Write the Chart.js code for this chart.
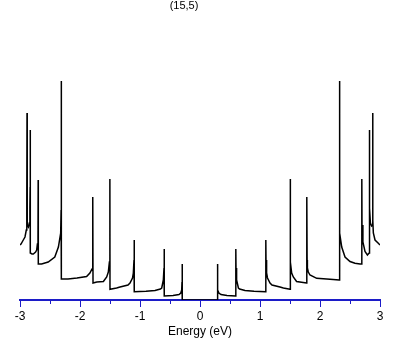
<!DOCTYPE html>
<html>
<head>
    <script src="https://cdn.jsdelivr.net/npm/chart.js"></script>
    <style>
        body { margin: 0; background: #fff; }
        #wrap { width: 409px; height: 345px; }
    </style>
</head>
<body>
    <div id="wrap"><canvas id="chart"></canvas></div>
    <script>
        // energy (eV) and density of states
        const energy = [
            -3.0, -2.983, -2.945, -2.917, -2.895, -2.888, -2.885, -2.883, -2.881, -2.878,
            -2.86, -2.845, -2.835, -2.831, -2.829, -2.828, -2.80, -2.778, -2.74, -2.722,
            -2.71, -2.70, -2.697, -2.695, -2.64, -2.53, -2.42, -2.36, -2.322, -2.315,
            -2.312, -2.310, -2.2, -2.05, -1.89, -1.835, -1.80, -1.79, -1.785, -1.783,
            -1.72, -1.61, -1.555, -1.528, -1.51, -1.502, -1.500, -1.39, -1.333, -1.2,
            -1.167, -1.125, -1.111, -1.10, -1.097, -1.095, -0.9, -0.75, -0.66, -0.638,
            -0.611, -0.60, -0.597, -0.595, -0.45, -0.35, -0.32, -0.305, -0.30, -0.297,
            -0.295,
            0.288, 0.290, 0.293, 0.298, 0.315, 0.35, 0.45, 0.595, 0.597, 0.60,
            0.61, 0.64, 0.66, 0.75, 0.9, 1.095, 1.097, 1.10, 1.11, 1.125,
            1.167, 1.2, 1.333, 1.39, 1.5, 1.502, 1.51, 1.528, 1.555, 1.61,
            1.72, 1.778, 1.780, 1.785, 1.79, 1.805, 1.833, 1.945, 2.167, 2.32,
            2.322, 2.327, 2.333, 2.362, 2.417, 2.5, 2.583, 2.667, 2.695, 2.697,
            2.70, 2.715, 2.75, 2.79, 2.820, 2.822, 2.824, 2.83, 2.84, 2.86,
            2.876, 2.877, 2.879, 2.883, 2.889, 2.917, 2.972, 3.0
        ];
        const dos = [
            55, 56, 60, 63, 70, 78, 100, 187, 95, 75,
            73, 77, 92, 113, 170, 47, 46, 46, 48, 50,
            56, 62, 120, 36, 36, 38, 43, 53, 67, 90,
            219, 21, 21, 22, 23.5, 27, 31, 40, 103, 17,
            18, 18.5, 23, 28, 38, 121, 10.7, 12, 13, 15,
            17, 22, 27, 40, 60, 8.3, 8.7, 9.5, 11, 12,
            20, 32, 51, 4, 4.5, 5.5, 7, 10, 18, 36,
            0,
            0, 36, 18, 10, 7, 5.5, 4.5, 4, 51, 32,
            20, 12, 11, 9.5, 8.7, 8.3, 60, 40, 27, 22,
            17, 15, 13, 12, 10.7, 121, 38, 27, 23, 18.5,
            17.5, 17, 103, 40, 32, 28, 25, 21.7, 20.7, 20,
            219, 90, 67, 53, 43, 38.5, 36.7, 36, 36, 121,
            75, 58, 48.5, 45, 47, 170, 113, 92, 77, 74,
            75, 187, 100, 80, 67, 60, 56.7, 55
        ];
        const majorTicks = [-3, -2, -1, 0, 1, 2, 3];
        const minorTicks = [-2.5, -1.5, -0.5, 0.5, 1.5, 2.5];
        const chartTitle = '(15,5)';
        const axisTitle = 'Energy (eV)';

        const blue = '#1c1cc8';

        const extras = {
            id: 'extras',
            afterDraw(chart) {
                const ctx = chart.ctx;
                const x = chart.scales.x;
                ctx.save();
                ctx.strokeStyle = blue;
                ctx.lineWidth = 1;
                minorTicks.forEach(v => {
                    const px = Math.round(x.getPixelForValue(v)) + 0.5;
                    ctx.beginPath();
                    ctx.moveTo(px, x.top);
                    ctx.lineTo(px, x.top + 4);
                    ctx.stroke();
                });
                ctx.fillStyle = '#000';
                ctx.font = '11px "Liberation Sans"';
                ctx.textAlign = 'center';
                ctx.textBaseline = 'middle';
                ctx.fillText(chartTitle, 184, 6);
                ctx.restore();
            }
        };

        const points = energy.map((e, i) => ({ x: e, y: dos[i] }));

        new Chart(document.getElementById('chart'), {
            type: 'line',
            data: {
                datasets: [{
                    data: points,
                    borderColor: '#000',
                    borderWidth: 1.5,
                    pointRadius: 0,
                    tension: 0,
                    fill: false
                }]
            },
            options: {
                responsive: true,
                maintainAspectRatio: false,
                animation: false,
                layout: { padding: { left: 20, right: 29, top: 20, bottom: 0 } },
                plugins: { legend: { display: false }, tooltip: { enabled: false } },
                scales: {
                    x: {
                        type: 'linear',
                        min: -3,
                        max: 3,
                        z: 1,
                        afterFit: s => { s.height = 45; },
                        afterBuildTicks: s => { s.ticks = majorTicks.map(v => ({ value: v })); },
                        border: { color: blue, width: 2 },
                        grid: { drawOnChartArea: false, drawTicks: true, tickLength: 7, tickColor: blue, color: blue },
                        ticks: {
                            color: '#000',
                            padding: 2,
                            font: { family: 'Liberation Sans', size: 12 },
                            maxRotation: 0
                        },
                        title: {
                            display: true,
                            text: axisTitle,
                            color: '#000',
                            font: { family: 'Liberation Sans', size: 12 },
                            padding: { top: 0, bottom: 6 }
                        }
                    },
                    y: {
                        display: false,
                        min: 0,
                        max: 280
                    }
                }
            },
            plugins: [extras]
        });
    </script>
</body>
</html>
